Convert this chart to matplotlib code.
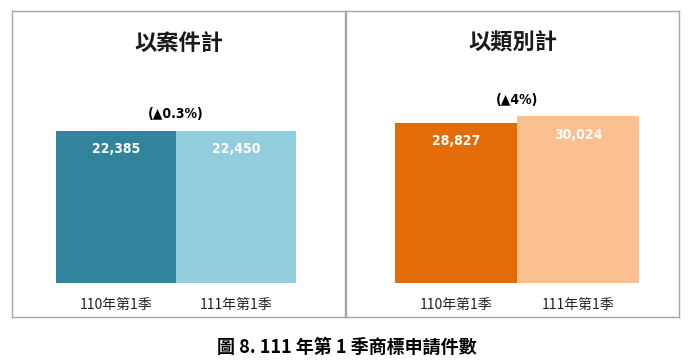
import matplotlib
matplotlib.use("Agg")
import matplotlib.pyplot as plt

plt.rcParams['font.family'] = ['Noto Sans CJK TC', 'DejaVu Sans']

# 資料
periods = ["110年第1季", "111年第1季"]
case_counts = [22385, 22450]
class_counts = [28827, 30024]
panel_titles = ["以案件計", "以類別計"]
growth_labels = ["(▲0.3%)", "(▲4%)"]
case_colors = ["#31849B", "#92CDDC"]
class_colors = ["#E36C09", "#FAC090"]
caption = "圖 8. 111 年第 1 季商標申請件數"

fig = plt.figure(figsize=(6.93, 3.61), dpi=100)
W, H = 693, 361


def frac(x0, y0, x1, y1):
    # 像素框 -> figure 座標
    return [x0 / W, 1 - y1 / H, (x1 - x0) / W, (y1 - y0) / H]


def panel(frame_box, bar_box, title, values, colors, growth, ymax):
    fr = fig.add_axes(frac(*frame_box))
    fr.set_xticks([])
    fr.set_yticks([])
    for s in fr.spines.values():
        s.set_color("#A6A6A6")
        s.set_linewidth(1.0)
    fr.text(0.5, 0.895, title, transform=fr.transAxes, ha="center",
            va="center", fontsize=16, fontweight="bold", color="#1a1a1a")

    ax = fig.add_axes(frac(*bar_box))
    ax.patch.set_alpha(0)
    x = range(len(values))
    bars = ax.bar(x, values, width=1.0, color=colors)
    ax.set_xlim(-0.5, len(values) - 0.5)
    ax.set_ylim(0, ymax)
    for s in ax.spines.values():
        s.set_visible(False)
    ax.set_yticks([])
    ax.set_xticks(list(x))
    ax.set_xticklabels(periods, fontsize=10, color="#222222")
    ax.tick_params(axis="x", length=0, pad=11)
    for b, v in zip(bars, values):
        ax.annotate(f"{v:,}", (b.get_x() + b.get_width() / 2, v),
                    xytext=(0, -13), textcoords="offset points",
                    ha="center", va="center", color="white",
                    fontsize=10, fontweight="bold", fontstretch="condensed",
                    family=["DejaVu Sans"])
    ax.annotate(growth, (0.5, max(values)), xytext=(0, 12),
                textcoords="offset points", ha="center", va="center",
                fontsize=10, fontweight="bold", color="black",
                fontstretch="condensed",
                family=["DejaVu Sans", "Noto Sans CJK TC"])


panel((12, 11, 345, 317), (56, 60, 296, 283), panel_titles[0],
      case_counts, case_colors, growth_labels[0], 32850)
panel((346, 11, 679, 317), (395, 60, 639, 283), panel_titles[1],
      class_counts, class_colors, growth_labels[1], 40200)

fig.text(0.5, 1 - 347 / H, caption, ha="center", va="center",
         fontsize=13, fontweight="bold", color="black")

fig.savefig("out.png", dpi=100)
